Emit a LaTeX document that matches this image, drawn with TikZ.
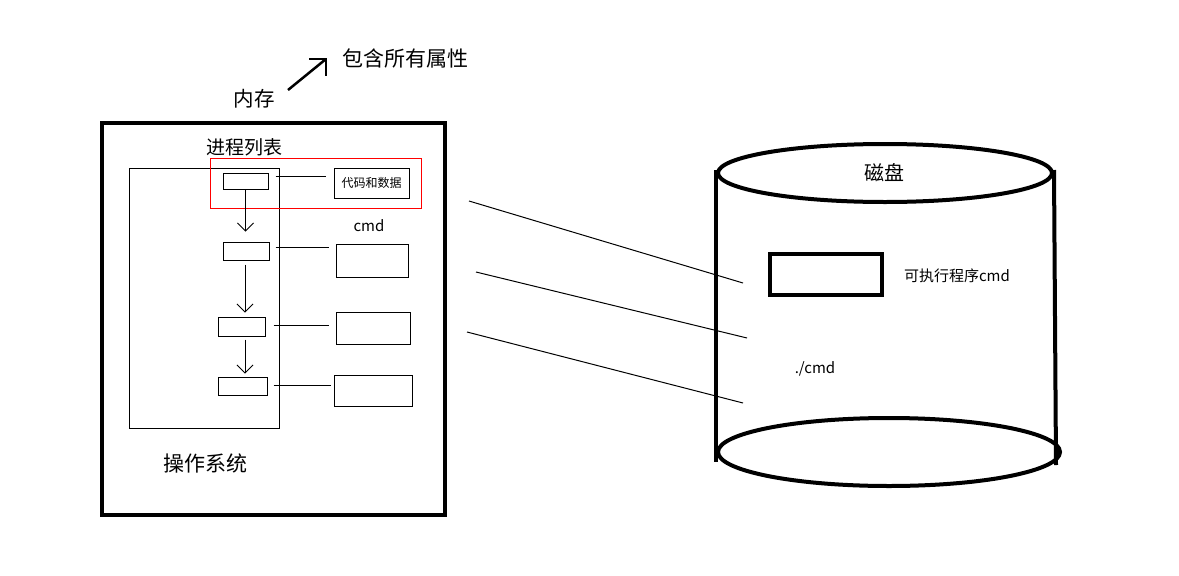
\documentclass[tikz,border=0pt]{standalone}
\usepackage{fontspec}
\setmainfont{Noto Sans CJK SC}
\usetikzlibrary{arrows.meta}
\tikzset{
  thinl/.style={line width=1pt},
  boldl/.style={line width=4pt},
  procbox/.style={draw, line width=1pt, inner sep=0pt},
  txt/.style={inner sep=0pt, anchor=center},
  flow/.style={line width=1pt, -{Straight Barb[length=8pt,width=16pt,line width=0.8pt]}},
}
\begin{document}
\begin{tikzpicture}[x=1pt,y=-1pt]
\useasboundingbox (0,0) rectangle (1179,576);
% memory heading
\node[txt, font=\fontsize{20.5}{24}\selectfont] (mem) at (254,99) {内存};
\node[txt, font=\fontsize{21}{24}\selectfont] (attr) at (405,58) {包含所有属性};
\coordinate (ma) at (288,90);
\coordinate (mb) at (326,59);
\draw[line width=2.5pt] (ma) -- (mb);
\draw[line width=2.5pt, line cap=rect] ([xshift=-16pt]mb) -- (mb) -- ([yshift=-16pt]mb);
% OS box
\node[draw, boldl, minimum width=343pt, minimum height=392pt, inner sep=0pt] (os) at (273,318.5) {};
\node[txt, font=\fontsize{21}{24}\selectfont] (ostxt) at (205,463) {操作系统};
\node[txt, font=\fontsize{19}{22}\selectfont] (pltxt) at (244,147) {进程列表};
\node[procbox, minimum width=150pt, minimum height=260pt] (plist) at (204,298) {};
\node[draw=red, line width=1pt, inner sep=0pt, minimum width=211pt, minimum height=50pt] (red) at (315.5,183) {};
% process boxes
\node[procbox, minimum width=45pt, minimum height=16pt] (p1) at (245.5,181) {};
\node[procbox, minimum width=46pt, minimum height=18pt] (p2) at (246,251) {};
\node[procbox, minimum width=47pt, minimum height=19pt] (p3) at (241.5,326.5) {};
\node[procbox, minimum width=49pt, minimum height=18pt] (p4) at (242.5,386) {};
% data boxes
\node[procbox, minimum width=75pt, minimum height=30pt, font=\fontsize{12}{14}\selectfont] (d1) at (371.5,183) {代码和数据};
\node[procbox, minimum width=72pt, minimum height=33pt] (d2) at (372,260.5) {};
\node[procbox, minimum width=74pt, minimum height=32pt] (d3) at (373,328) {};
\node[procbox, minimum width=78pt, minimum height=31pt] (d4) at (373,390.5) {};
\node[txt, font=\fontsize{15}{18}\selectfont] (cmd) at (369,226) {cmd};
% connectors
\draw[thinl] ([shift={(7,-5)}]p1.east) -- ([shift={(-8,-7)}]d1.west);
\draw[thinl] ([shift={(6,-4)}]p2.east) -- ([shift={(-7,-13.5)}]d2.west);
\draw[thinl] ([shift={(8,-1.5)}]p3.east) -- ([shift={(-7,-3)}]d3.west);
\draw[thinl] ([shift={(6,-1)}]p4.east) -- ([shift={(-3,-5.5)}]d4.west);
\draw[flow, shorten >=10pt] (p1.south) -- (p1.south |- p2.north);
\draw[flow, shorten <=4pt, shorten >=4pt] ([xshift=-1pt]p2.south) -- ([xshift=-1pt]p2.south |- p3.north);
\draw[flow, shorten <=3pt, shorten >=3pt] ([xshift=-1pt]p2.south |- p3.south) -- ([xshift=-1pt]p2.south |- p4.north);
% disk cylinder
\draw[boldl] (885,173) ellipse [x radius=167, y radius=29];
\draw[boldl] (889,452) ellipse [x radius=171, y radius=34];
\coordinate (cl1) at (716,170);
\coordinate (cl2) at (716,462);
\coordinate (cr1) at (1054,170);
\coordinate (cr2) at (1056,465);
\draw[boldl] (cl1) -- (cl2);
\draw[boldl] (cr1) -- (cr2);
\node[txt, font=\fontsize{20}{24}\selectfont] (disk) at (884,173) {磁盘};
\node[draw, boldl, inner sep=0pt, minimum width=112pt, minimum height=41pt] (exe) at (825.5,274.5) {};
\node[txt, font=\fontsize{15}{18}\selectfont] (exetxt) at (957,276) {可执行程序cmd};
\node[txt, font=\fontsize{15}{18}\selectfont] (run) at (815,369) {./cmd};
% diagonal lines
\coordinate (a1) at (469,201);
\coordinate (a2) at (743,283);
\coordinate (b1) at (476,272);
\coordinate (b2) at (747,338);
\coordinate (c1) at (467,332);
\coordinate (c2) at (743,403);
\draw[thinl] (a1) -- (a2);
\draw[thinl] (b1) -- (b2);
\draw[thinl] (c1) -- (c2);
\end{tikzpicture}
\end{document}
